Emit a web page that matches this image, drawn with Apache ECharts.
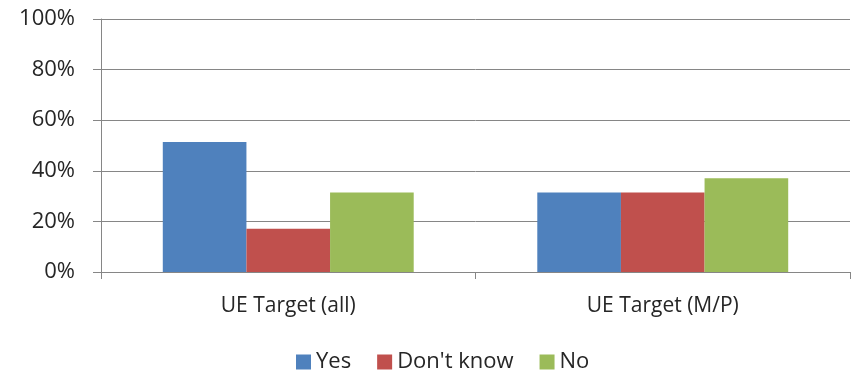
<!DOCTYPE html>
<html>
<head>
<meta charset="utf-8">
<script src="https://cdn.jsdelivr.net/npm/echarts@6/dist/echarts.min.js"></script>
<style>
  html, body { margin: 0; padding: 0; background: #fff; }
  #chart { width: 854px; height: 372px; }
</style>
</head>
<body>
<div id="chart"></div>
<script>
// Survey answers as shares of respondents (n = 35)
const categories = ['UE Target (all)', 'UE Target (M/P)'];
const yesValues = [0.514, 0.314];
const dontKnowValues = [0.171, 0.314];
const noValues = [0.314, 0.371];
const yTicks = [0, 0.2, 0.4, 0.6, 0.8, 1.0];

const font = '"Open Sans", "Liberation Sans", sans-serif';
const axisGray = '#868686';
const textColor = '#262626';

const chart = echarts.init(document.getElementById('chart'), null, { renderer: 'canvas' });

function barSeries(name, data, color) {
  return {
    name: name,
    type: 'bar',
    data: data,
    barGap: '0%',
    barCategoryGap: '33%',
    itemStyle: { color: color },
    emphasis: { disabled: true }
  };
}

chart.setOption({
  animation: false,
  textStyle: { fontFamily: font },
  grid: { left: 101, right: 4, top: 19, bottom: 100, containLabel: false },
  legend: {
    top: 346,
    left: 291,
    padding: 5,
    itemWidth: 15,
    itemHeight: 15,
    itemGap: 26,
    icon: 'rect',
    textStyle: { fontSize: 22, color: textColor, fontFamily: font },
    data: ['Yes', "Don't know", 'No']
  },
  xAxis: {
    type: 'category',
    data: categories,
    axisLine: { lineStyle: { color: axisGray, width: 1 } },
    axisTick: { show: true, length: 7, alignWithLabel: false, lineStyle: { color: axisGray } },
    axisLabel: { fontSize: 21, color: textColor, margin: 24, fontFamily: font }
  },
  yAxis: {
    type: 'value',
    min: yTicks[0],
    max: yTicks[yTicks.length - 1],
    interval: 0.2,
    axisLine: { show: true, lineStyle: { color: axisGray, width: 1 } },
    axisTick: { show: true, length: 8, inside: false, lineStyle: { color: axisGray } },
    splitLine: { show: true, lineStyle: { color: axisGray, width: 1 } },
    axisLabel: {
      fontSize: 22,
      color: textColor,
      margin: 26,
      fontFamily: font,
      formatter: v => Math.round(v * 100) + '%'
    }
  },
  series: [
    barSeries('Yes', yesValues, '#4F81BD'),
    barSeries("Don't know", dontKnowValues, '#C0504D'),
    barSeries('No', noValues, '#9BBB59')
  ]
});
</script>
</body>
</html>
